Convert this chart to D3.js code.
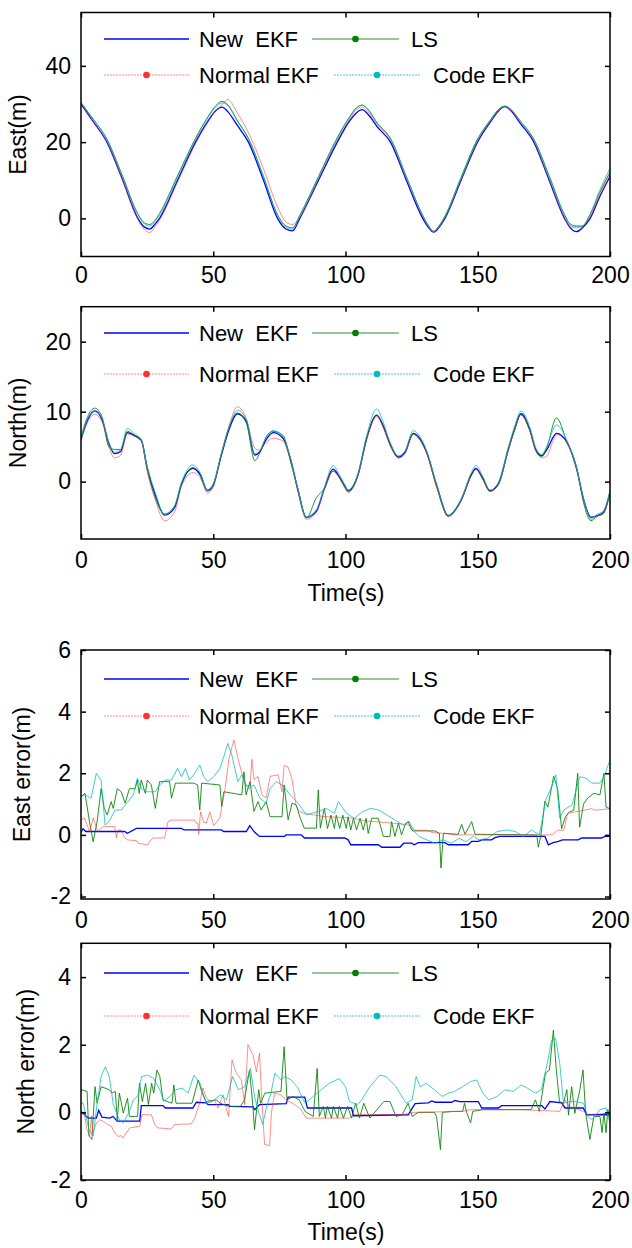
<!DOCTYPE html>
<html>
<head>
<meta charset="utf-8">
<script src="https://cdn.jsdelivr.net/npm/d3@7"></script>
<style>
  body { margin: 0; background: #fff; }
  text { font-family: "Liberation Sans", Arial, sans-serif; fill: #000; }
</style>
</head>
<body>
<div id="chart"></div>
<script>
// ---- East / North position (m), common time axis per panel ----
const eastT = [0,4,9.8,15.5,21.5,24,26,28,29.7,36.5,
  43.3,48,51,53.3,55.5,59,63.3,69,74.3,77.5,
  80,82.7,89.8,96.9,101.5,104,106.3,108.5,112,117,
  123,129.2,131.5,133.3,135.5,137.6,143.7,149.9,155,158,
  160.2,162.5,166,171.2,177,182.8,185,187.3,189.5,192.5,
  196,200];
const eastNew = [30.0,26.0,20.0,10.5,0.0,-2.3,-2.8,-1.5,0.0,10.0,
  20.0,25.5,28.3,29.2,28.0,24.5,20.0,10.0,0.0,-2.8,
  -3.3,0.0,10.0,20.0,25.5,27.6,28.5,27.3,24.0,20.0,
  10.0,0.0,-2.5,-3.6,-2.2,0.0,10.0,20.0,25.5,28.3,
  29.3,28.3,25.0,20.0,10.0,0.0,-2.5,-3.5,-2.5,0.0,
  5.5,11.0];
const eastLS = [30.3,26.6,20.8,11.5,1.2,-1.2,-1.6,-0.5,1.3,11.2,
  21.0,26.7,29.6,30.7,29.8,25.8,21.0,11.0,1.0,-2.0,
  -2.5,0.8,11.0,21.2,26.6,28.9,29.7,28.6,25.0,21.0,
  11.0,0.8,-2.0,-3.4,-1.8,0.6,10.8,20.8,26.0,28.7,
  29.4,28.6,25.6,20.8,11.2,1.0,-1.5,-2.0,-2.0,1.0,
  6.6,12.1];
const eastNormal = [30.0,25.8,20.0,10.4,-0.3,-3.0,-3.7,-2.2,-0.5,9.5,
  19.6,25.2,28.3,29.8,31.2,27.8,22.5,13.0,3.0,-1.0,
  -1.6,0.3,10.5,20.6,26.0,28.4,29.2,28.0,24.6,20.5,
  10.5,0.5,-2.2,-3.4,-2.0,0.3,10.3,20.3,25.7,28.4,
  29.3,28.4,25.2,20.3,10.3,0.2,-2.2,-2.5,-2.2,0.5,
  6.0,12.0];
const eastCode = [30.5,26.6,20.7,11.2,1.0,-1.5,-2.0,-0.8,0.8,10.8,
  20.7,26.4,29.3,30.3,29.6,25.6,20.8,10.8,0.7,-2.3,
  -2.8,0.5,10.8,20.9,26.4,28.9,29.7,28.5,25.0,20.8,
  10.8,0.7,-2.2,-3.5,-2.0,0.4,10.5,20.6,26.0,28.6,
  29.5,28.6,25.6,20.6,10.8,0.8,-1.8,-2.2,-2.0,1.2,
  7.2,13.1];

const northT = [0,2.5,5.2,8,10.5,12.7,15,17.5,20,22.8,
  25,28,31.6,35.4,38,42.3,45,47.8,50,53,
  56,59.1,62.5,65.7,67.5,70,72.6,76.4,79.5,82,
  85.2,89,92,95.3,97.5,99.7,101,104.8,108,111.8,
  114,116.8,120,122.5,125.6,128,130.7,134.5,138.9,141,
  143.9,147.7,149.3,152,154.6,157.8,161.6,164,166.3,169.7,
  172,174.2,176,179.8,183.6,187.4,190,192.8,195,197.5,
  200];
const northNew = [6.0,8.8,10.1,8.8,5.5,4.0,4.3,7.0,6.6,5.9,
  2.0,-1.8,-4.8,-3.7,-0.3,1.9,1.0,-1.3,-0.5,3.7,
  7.5,9.7,8.6,3.8,4.2,6.0,7.0,6.2,2.8,-1.2,
  -5.1,-4.2,-1.0,1.8,0.8,-0.6,-1.3,1.1,6.2,9.5,
  8.2,5.4,3.5,4.2,6.9,6.2,4.2,-0.6,-4.9,-4.3,
  -2.5,1.1,1.9,0.4,-1.3,-0.3,4.7,7.6,9.7,7.4,
  4.5,3.7,4.5,6.9,5.7,1.8,-2.5,-5.1,-4.9,-4.4,
  -1.5];
const northLS = [6.3,9.3,10.5,9.2,5.0,4.6,4.6,7.2,6.7,6.0,
  1.8,-2.2,-4.6,-3.5,-0.4,2.0,1.2,-1.2,-0.4,3.8,
  7.8,9.8,8.4,3.0,4.0,6.4,7.2,6.6,2.5,-1.0,
  -5.2,-2.3,-1.0,1.5,0.7,-0.7,-1.4,1.0,6.1,9.5,
  8.0,5.5,3.4,4.1,6.8,6.1,4.1,-0.8,-4.9,-4.2,
  -2.5,1.0,1.8,0.3,-1.4,-0.4,4.6,7.5,9.6,7.3,
  4.4,3.6,4.8,9.1,5.8,2.0,-3.0,-5.6,-5.0,-4.6,
  -1.5];
const northNormal = [6.0,8.5,9.6,8.5,5.0,3.4,3.8,6.8,6.6,5.8,
  1.5,-2.5,-5.6,-4.3,-0.7,1.3,0.6,-1.6,-0.8,3.9,
  8.0,10.7,9.0,4.8,4.5,5.6,6.2,5.8,2.5,-1.4,
  -5.4,-4.4,-1.2,1.5,0.6,-0.9,-1.6,0.9,6.0,9.3,
  8.0,5.2,3.4,4.0,6.7,6.0,4.0,-0.8,-5.0,-4.4,
  -2.6,0.9,1.7,0.2,-1.4,-0.5,4.5,7.4,9.5,7.2,
  4.3,3.4,3.6,6.7,5.6,1.7,-2.6,-5.2,-4.9,-4.5,
  -1.6];
const northCode = [6.2,9.0,10.0,9.0,5.6,4.2,4.6,7.6,6.9,6.0,
  2.2,-1.5,-4.7,-3.4,-0.1,2.4,1.3,-1.2,-0.3,4.0,
  7.8,10.2,8.9,4.0,4.4,6.3,7.3,6.4,2.9,-1.0,
  -5.1,-4.0,-0.8,2.3,1.1,-0.4,-1.2,1.3,6.6,10.4,
  8.8,5.7,3.7,4.4,7.3,6.5,4.4,-0.4,-4.8,-4.2,
  -2.3,1.4,2.3,0.7,-1.2,-0.1,5.0,8.0,10.1,7.8,
  4.8,3.9,5.0,8.1,6.0,2.0,-2.4,-5.4,-4.7,-4.2,
  -1.2];

// ---- East error (m): [time, value] ----
const eastErrNew = [[0,0.1],[0.8,0.2],[1.8,0.11],[16.5,0.11],[17.5,0.05],[21,0.21],[38,0.21],[39,0.16],[53,0.16],[54,0.11],
  [62.5,0.11],[63.8,0.3],[65.5,0.1],[67.5,-0.05],[77,-0.05],[77.5,0],[83.3,0],[84.5,-0.1],[99.7,-0.1],[101,-0.16],
  [102,-0.32],[112.4,-0.32],[113.7,-0.4],[120.6,-0.4],[122,-0.27],[125,-0.27],[126,-0.32],[127.5,-0.25],[137.6,-0.25],[138.9,-0.32],
  [146.4,-0.32],[147.7,-0.21],[150.2,-0.21],[151.5,-0.16],[155.2,-0.16],[156.5,-0.09],[158.4,-0.05],[175.4,-0.05],[176.7,-0.32],[178.5,-0.25],
  [180.5,-0.21],[182,-0.16],[188,-0.16],[189.3,-0.1],[196.8,-0.1],[198,-0.05],[200,-0.05]];
const eastErrLS = [[0,1.24],[1.5,1.35],[3.3,0.38],[4.6,-0.22],[6.1,0.43],[7.6,1.5],[8.8,0.86],[9.9,0.65],[11.4,1.08],[12.2,0.86],
  [13.7,1.5],[15.2,1.4],[16.7,1.03],[18.3,1.5],[20.5,1.5],[21.3,1.78],[22,1.35],[22.8,1.78],[24.3,1.35],[25.1,1.78],
  [26.6,1.62],[28.1,0.86],[29.7,1.73],[33.5,1.73],[34.2,1.19],[35.7,1.68],[42.6,1.68],[44.1,1.62],[44.9,0.81],[45.6,1.68],
  [52.5,1.62],[53.2,0.92],[54,1.4],[60.8,1.3],[61.6,2.05],[62.4,1.3],[63.9,1.73],[65.4,0.76],[66.9,1.08],[68.1,0.81],
  [70,1.08],[71.5,0.59],[76,0.59],[76.8,1.62],[78.3,0.49],[79.8,1.03],[81.4,0.97],[82.9,0.54],[84.4,0.22],[89,0.22],
  [89.7,1.46],[90.5,0.22],[92,0.86],[93.2,0.21],[94.5,0.64],[95.8,0.21],[96.5,0.64],[97.8,0.21],[99,0.64],[100.3,0.21],
  [101,0.59],[102,0.16],[103,0.54],[104.2,0.16],[105.5,0.54],[106.7,0.16],[107.8,0.54],[108.6,0.05],[109.9,0.54],[112.4,0.54],
  [114.3,-0.05],[116.8,-0.05],[117.4,0.43],[118.7,-0.05],[120,0.38],[121.2,0],[122.5,0.32],[123.7,0.43],[125,0.16],[125.6,0.13],
  [133.8,0.13],[135.5,0.05],[136.1,-1.07],[137,0.05],[142.6,0.02],[143.9,0.34],[145.2,0.02],[147.7,0.43],[149,0.02],[172.3,0],
  [172.9,-0.4],[173.9,0],[175.4,1.1],[176.5,0.9],[178.7,1.9],[180.2,1.5],[181.7,0.2],[183.2,0.6],[184.7,0.75],[186.3,0.8],
  [187.8,2.0],[188.5,0.25],[190,1.0],[191.6,1.2],[193.9,1.35],[196.2,1.3],[197.7,2.0],[198.5,0.9],[200,0.85]];
const eastErrNormal = [[0,0.5],[1.3,0.54],[3.3,0.1],[4.6,0.55],[6.4,0.1],[8.3,0.27],[12.7,0.27],[13.4,-0.1],[14,0.16],[15.2,0.16],
  [16.5,-0.1],[17.5,-0.16],[21,-0.19],[21.5,-0.27],[25.3,-0.32],[26,-0.21],[27.2,-0.1],[31.6,-0.1],[32.9,0.43],[34,0.48],
  [43,0.48],[43.6,0.38],[44.2,0.38],[44.5,0.02],[45.2,0.75],[46.4,0.4],[47.5,0.4],[48.7,0.75],[50.2,0.3],[52.5,0.55],
  [53.2,0.9],[54.5,1.5],[56,2.5],[57.8,3.08],[59.3,2.5],[60.8,2.0],[62.3,1.6],[63.9,1.6],[64.6,2.45],[65.4,1.8],
  [66.9,1.9],[68.4,1.3],[70,1.2],[71.5,1.9],[74.5,1.95],[76,1.4],[76.8,2.25],[78.3,2.2],[79.8,1.8],[81.4,0.9],
  [82.9,0.75],[84.4,0.7],[91.3,0.6],[102,0.55],[108,0.45],[115.6,0.4],[121.7,0.35],[124.7,0.3],[126.2,0.15],[130.8,0.15],
  [133,0.07],[138.1,0.05],[141.4,0],[178,0],[180.2,0.15],[182.5,0.15],[184,0.7],[187,0.75],[190,0.8],[193,0.85],
  [194.5,0.8],[200,0.85]];
const eastErrCode = [[0,1.24],[1.5,1.3],[3.8,1.19],[5.8,2.0],[7.6,1.78],[9.1,0.32],[10.6,0.43],[12.9,0.81],[15.2,0.81],[16.7,0.97],
  [19.8,1.3],[21.3,1.84],[22.8,1.5],[25.1,1.4],[28.1,1.4],[29.7,1.62],[31.9,1.78],[34.2,1.78],[36.5,2.16],[38,1.89],
  [39.5,2.16],[41,1.78],[42.6,1.95],[44.9,2.27],[46.4,1.89],[47.9,1.73],[50.2,1.89],[52.5,2.16],[54,2.54],[55.5,2.97],
  [57,2.6],[59.3,1.73],[60.8,1.95],[63.1,1.5],[65.4,1.62],[67.7,1.19],[70,1.03],[71.5,1.5],[73.8,1.73],[76,1.62],
  [79.1,1.3],[82.1,1.03],[85.2,0.65],[89.7,0.76],[92.8,0.86],[95.8,0.7],[97.3,1.08],[100.4,0.7],[103.4,0.54],[106.5,0.76],
  [109.5,0.86],[112.5,0.81],[115.6,0.65],[118.6,0.49],[121.7,0.32],[124,0.45],[125.5,0.16],[127.8,-0.05],[130.8,-0.16],[133.8,-0.27],
  [136.9,-0.16],[139.9,-0.27],[143,-0.11],[145.5,-0.22],[148.3,-0.05],[150.5,-0.16],[153.6,-0.11],[157.4,0.11],[161.2,0.16],[164.2,0.11],
  [167.3,-0.05],[170.3,0.16],[173.3,0],[175.7,1.13],[178,1.57],[179.5,1.95],[181,0.54],[182.5,0.81],[185.6,0.97],[188.6,1.89],
  [190.9,1.84],[193.2,1.68],[196.2,1.68],[197.7,1.89],[200,2.43]];

// ---- North error (m): [time, value] ----
const northErrNew = [[0,0],[0.8,0],[2,-0.12],[3,-0.17],[5.8,-0.17],[6.7,0.06],[7.9,-0.14],[10.8,-0.17],[12.1,-0.12],[13.7,-0.26],
  [22.2,-0.26],[22.8,0.2],[31,0.2],[31.9,0.13],[42.3,0.13],[43.6,0.3],[47.4,0.28],[48,0.23],[55.6,0.23],[56.3,0.18],
  [65,0.16],[65.7,0.08],[67.5,0.23],[77.6,0.26],[78.3,0.45],[84.6,0.45],[85.6,0.13],[102.3,0.13],[103,-0.1],[123.7,-0.07],
  [126.3,0.26],[131.3,0.28],[132.6,0.34],[133.9,0.3],[140.1,0.3],[141.4,0.35],[143.2,0.32],[150.2,0.32],[151.5,0.13],[157.8,0.13],
  [159,0.2],[174.2,0.2],[175.4,0.1],[177.3,0.32],[181.7,0.28],[183,0.13],[189.9,0.13],[191.2,-0.07],[200,-0.07]];
const northErrLS = [[0,0.67],[2.3,0.62],[3,-0.7],[4.1,-0.8],[5.3,0.76],[6.1,0.27],[7.6,0.76],[10.7,0.67],[11.7,0.57],[13,0.62],
  [13.7,-0.22],[14.5,0.57],[16,-0.02],[17.6,0.42],[18.3,-0.12],[21.4,-0.12],[22.1,0.86],[23.2,0.32],[24.4,0.86],[25.5,0.23],
  [26.7,0.86],[27.5,0.57],[28.7,1.25],[29.8,1.06],[31,0.37],[34.4,0.27],[35.1,0.81],[35.9,0.27],[42,0.27],[44.3,0.96],
  [45.8,0.57],[47.3,0.32],[51.1,0.37],[52.7,0.27],[55.7,0.18],[60.3,0.18],[61.8,0.37],[63.7,1.25],[64.9,0.27],[65.6,-0.51],
  [67.2,0.67],[67.9,0.27],[69.5,0.57],[75.6,0.62],[76.8,1.94],[77.9,0.37],[80.2,0.47],[82.5,0.37],[84.7,0.03],[87.8,-0.12],
  [89.3,1.3],[90.1,-0.12],[91.6,0.18],[92.4,-0.17],[93.1,0.18],[94.7,-0.17],[95.4,0.18],[97,-0.17],[97.7,0.18],[99.2,-0.17],
  [100.8,0.18],[102.3,-0.17],[103.8,0.27],[105.3,-0.17],[106.9,0.27],[109.2,-0.17],[114.5,0.32],[116.8,0.32],[119.1,-0.12],[121.4,-0.07],
  [123.7,0.27],[125.2,-0.12],[127.5,0],[133.6,0],[134.4,-0.12],[135.9,-1.1],[136.6,0],[141.2,0.03],[144.3,0.03],[145,0.27],
  [145.8,0],[147.3,-0.31],[148.1,0.03],[151.9,0.08],[170.2,0.08],[171.8,0.37],[173.3,0.03],[175.6,1.16],[177.1,1.25],[178.6,2.43],
  [179.7,1.25],[180.9,0.32],[182.4,0.27],[183.7,0.67],[184.3,-0.08],[185.5,0.76],[186.7,-0.03],[188.6,0.67],[189.8,1.25],[190.8,-0.02],
  [192.4,-0.8],[193.9,-0.12],[196.2,-0.12],[197,-0.6],[197.7,-0.02],[198.5,-0.6],[199.2,0.08],[200,-0.3]];
const northErrNormal = [[0,0],[1.4,-0.12],[2.2,-0.5],[3.3,-0.69],[3.9,-0.1],[4.5,-0.61],[5.8,-0.31],[7.1,-0.22],[8.5,-0.27],[10.2,-0.36],
  [11.5,-0.41],[12.7,-0.61],[14,-0.71],[15.2,-0.69],[15.9,-0.76],[17.1,-0.61],[18.4,-0.46],[22.2,-0.41],[23.1,-0.07],[26.6,-0.07],
  [27.9,-0.36],[29.1,-0.46],[34.2,-0.49],[35.4,-0.36],[41.7,-0.34],[43,-0.17],[44.9,0.28],[46.1,0.72],[47.4,0.42],[49.3,0.32],
  [50.5,0.37],[51.8,0.13],[53.7,0.52],[55,0.08],[55.8,-0.12],[57.1,1.55],[58.7,1.16],[60.6,0.96],[61.9,0.23],[63.1,2.0],
  [65,1.7],[66.3,1.2],[67.5,1.75],[68.2,0.6],[69.4,-0.95],[71.3,-0.98],[72,0],[73.2,0.57],[75.6,0.52],[77.6,0.37],
  [80.8,0.23],[83,0.1],[85.2,-0.17],[101.5,-0.17],[103,-0.07],[121.4,-0.07],[126,0],[144.3,0.03],[147.3,0.08],[167,0.08],
  [181,0.03],[183,0.37],[184.5,0.18],[190,0.03],[191.6,-0.07],[200,-0.02]];
const northErrCode = [[0,0.27],[0.8,0.27],[3,-0.51],[4.6,-0.7],[6.1,0.27],[7.6,1.06],[9.2,1.35],[10.7,1.06],[12.2,0.23],[14.5,-0.22],
  [16,-0.31],[18.3,0.03],[19.8,0.37],[21.4,0.47],[22.9,1.06],[25.2,1.1],[27.5,1.0],[29.8,0.67],[31.3,0.32],[33.6,0.47],
  [35.9,0.67],[38.2,0.72],[40.5,0.57],[42.7,1.1],[45,0.86],[47.3,0.27],[49.6,0.32],[52.7,0.52],[55,0.37],[57.3,1.06],
  [59.5,0.67],[61.8,0.76],[64.1,1.3],[65.6,0.47],[67.2,0],[68.7,-0.36],[70.2,0.18],[71.8,0.57],[73.3,1.16],[75.6,0.96],
  [77.1,1.06],[79.4,0.96],[81.7,0.76],[84.7,0.27],[87.8,0.47],[90.8,0.67],[93.9,0.86],[97.7,1.0],[100,0.76],[101.5,0.32],
  [104.6,0.23],[106.1,0.37],[109.2,0.76],[113,1.1],[115.3,1.06],[119.1,0.76],[122.9,0.27],[125.2,0.37],[126.7,1.06],[128.2,0.76],
  [130.5,0.86],[133.6,0.67],[136.6,0.47],[138.9,0.57],[141.2,0.62],[144.3,0.76],[147.3,0.91],[149.6,0.96],[151.9,0.57],[154.2,0.37],
  [157.3,0.47],[160.3,0.67],[163.4,0.62],[166.4,0.81],[168.7,0.72],[171.8,0.57],[174,0.67],[176.3,1.45],[177.9,2.14],[179.4,2.19],
  [181,1.45],[182.4,0.27],[184.7,0.32],[187,0.32],[190,0.27],[191.6,-0.12],[193.1,-0.22],[196.2,0.08],[198.5,0.13],[200,-0.31]];

const xTicks = [0, 50, 100, 150, 200];
const seriesNames = ["New  EKF", "LS", "Normal EKF", "Code EKF"];

const W = 632, H = 1248;
const svg = d3.select("#chart").append("svg")
  .attr("width", W).attr("height", H);
svg.append("rect").attr("width", W).attr("height", H).attr("fill", "#fff");

const x = d3.scaleLinear().domain([0, 200]).range([81, 610]);
const plain = (d) => String(d);

// line styles in legend order (plot lines solid, legend lines dotted like the figure)
const styles = [
  { color: "#0000ff", width: 1.3, dash: null, opacity: 1 },
  { color: "#008000", width: 1, dash: null, opacity: 0.85 },
  { color: "#ff3030", width: 1, dash: "2,1", opacity: 0.55 },
  { color: "#00bcbc", width: 1, dash: "2,1", opacity: 0.75 }
];

const panels = [
  { label: "East(m)", top: 12.5, bottom: 256.5, domain: [-10, 54], ticks: [0, 20, 40],
    labelX: 18, xPad: 10, legendY: [39, 75], time: null, curve: d3.curveMonotoneX,
    series: [eastNew, eastLS, eastNormal, eastCode].map(v => d3.zip(eastT, v)) },
  { label: "North(m)", top: 306.7, bottom: 539, domain: [-8.2, 25], ticks: [0, 10, 20],
    labelX: 18, xPad: 13, legendY: [333, 374], time: 593, curve: d3.curveMonotoneX,
    series: [northNew, northLS, northNormal, northCode].map(v => d3.zip(northT, v)) },
  { label: "East error(m)", top: 650, bottom: 899, domain: [-2.08, 6], ticks: [-2, 0, 2, 4, 6],
    labelX: 22, xPad: 13, legendY: [679, 716], time: null, curve: d3.curveLinear,
    series: [eastErrNew, eastErrLS, eastErrNormal, eastErrCode] },
  { label: "North error(m)", top: 943.3, bottom: 1180, domain: [-2, 5], ticks: [-2, 0, 2, 4],
    labelX: 26, xPad: 12, legendY: [973, 1016], time: 1232, curve: d3.curveLinear,
    series: [northErrNew, northErrLS, northErrNormal, northErrCode] }
];

panels.forEach((p, i) => {
  const y = d3.scaleLinear().domain(p.domain).range([p.bottom, p.top]);
  const g = svg.append("g");

  g.append("clipPath").attr("id", "clip" + i)
    .append("rect")
      .attr("x", x(0)).attr("y", p.top)
      .attr("width", x(200) - x(0)).attr("height", p.bottom - p.top);

  const line = d3.line()
    .x(d => x(d[0]))
    .y(d => y(d[1]))
    .curve(p.curve);

  // data lines
  g.append("g").attr("clip-path", `url(#clip${i})`)
    .selectAll("path")
      .data(p.series).enter()
    .append("path")
      .attr("d", d => line(d))
      .attr("fill", "none")
      .attr("stroke", (d, k) => styles[k].color)
      .attr("stroke-width", (d, k) => styles[k].width)
      .attr("stroke-opacity", (d, k) => styles[k].opacity);

  // axes, ticks pointing inwards
  g.append("g")
    .attr("transform", `translate(0,${p.bottom})`)
    .call(d3.axisBottom(x).tickValues(xTicks).tickFormat(plain).tickSizeInner(-5).tickSizeOuter(0).tickPadding(p.xPad))
    .attr("font-size", 23);
  g.append("g")
    .attr("transform", `translate(0,${p.top})`)
    .call(d3.axisTop(x).tickValues(xTicks).tickSizeInner(-5).tickSizeOuter(0).tickFormat(""));
  g.append("g")
    .attr("transform", `translate(${x(0)},0)`)
    .call(d3.axisLeft(y).tickValues(p.ticks).tickFormat(plain).tickSizeInner(-5).tickSizeOuter(0).tickPadding(10))
    .attr("font-size", 23);
  g.append("g")
    .attr("transform", `translate(${x(200)},0)`)
    .call(d3.axisRight(y).tickValues(p.ticks).tickSizeInner(-5).tickSizeOuter(0).tickFormat(""));
  g.selectAll(".domain").remove();
  g.selectAll(".tick line").attr("stroke", "#000").attr("stroke-width", 1.5);

  g.append("rect")
    .attr("x", x(0)).attr("y", p.top)
    .attr("width", x(200) - x(0)).attr("height", p.bottom - p.top)
    .attr("fill", "none").attr("stroke", "#000").attr("stroke-width", 1.5);

  // y label
  g.append("text")
    .attr("transform", `translate(${p.labelX},${(p.top + p.bottom) / 2})rotate(-90)`)
    .attr("text-anchor", "middle")
    .attr("dy", "0.35em")
    .attr("font-size", 23)
    .text(p.label);

  if (p.time) {
    g.append("text")
      .attr("x", 346).attr("y", p.time)
      .attr("text-anchor", "middle")
      .attr("dy", "0.35em")
      .attr("font-size", 23)
      .text("Time(s)");
  }

  // legend
  const legendPos = [
    { x1: 104, x2: 189, tx: 199, row: 0, marker: false },
    { x1: 312, x2: 399, tx: 411, row: 0, marker: true },
    { x1: 104, x2: 189, tx: 199, row: 1, marker: true },
    { x1: 334, x2: 420, tx: 433, row: 1, marker: true }
  ];
  const leg = g.append("g").selectAll("g")
      .data(seriesNames).enter()
    .append("g")
      .attr("transform", (d, k) => `translate(0,${p.legendY[legendPos[k].row]})`);

  leg.append("line")
    .attr("x1", (d, k) => legendPos[k].x1)
    .attr("x2", (d, k) => legendPos[k].x2)
    .attr("stroke", (d, k) => styles[k].color)
    .attr("stroke-width", (d, k) => styles[k].width)
    .attr("stroke-opacity", (d, k) => styles[k].opacity)
    .attr("stroke-dasharray", (d, k) => styles[k].dash);

  leg.filter((d, k) => legendPos[k].marker)
    .append("circle")
      .attr("cx", (d, k) => (legendPos[k + 1].x1 + legendPos[k + 1].x2) / 2)
      .attr("r", 3.3)
      .attr("fill", (d, k) => styles[k + 1].color);

  leg.append("text")
    .attr("x", (d, k) => legendPos[k].tx)
    .attr("dy", "0.35em")
    .attr("font-size", 22)
    .style("white-space", "pre")
    .text(d => d);
});
</script>
</body>
</html>
